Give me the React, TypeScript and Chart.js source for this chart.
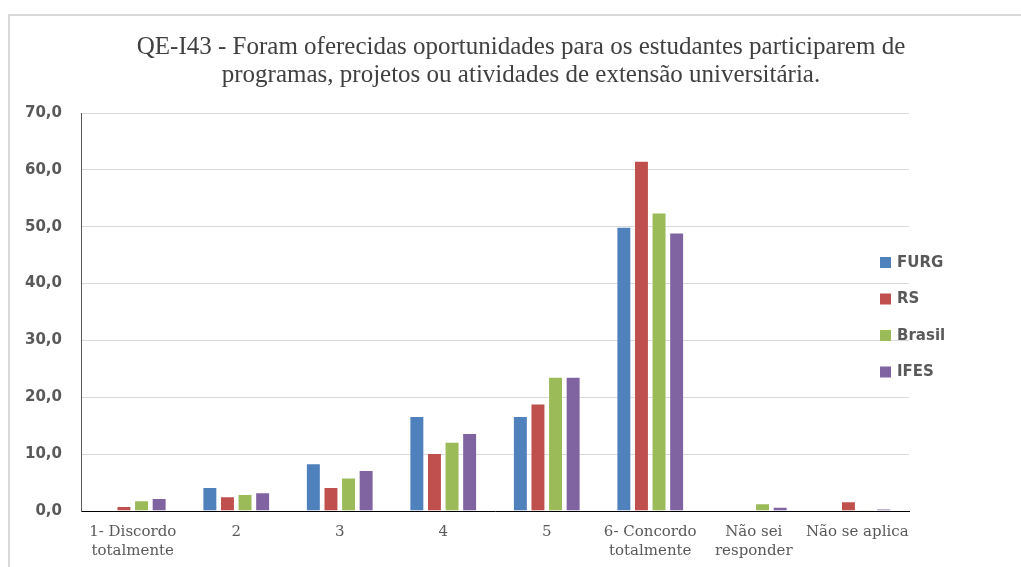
import React, { useEffect, useRef } from "react";
import { Chart, registerables } from "chart.js";

Chart.register(...registerables);

const titleLines = [
  "QE-I43 - Foram oferecidas oportunidades para os estudantes participarem de",
  "programas, projetos ou atividades de extensão universitária.",
];

const categories: (string | string[])[] = [
  ["1- Discordo", "totalmente"],
  "2",
  "3",
  "4",
  "5",
  ["6- Concordo", "totalmente"],
  ["Não sei", "responder"],
  "Não se aplica",
];

const seriesNames = ["FURG", "RS", "Brasil", "IFES"];
const seriesColors = ["#4F81BD", "#C0504D", "#9BBB59", "#8064A2"];

const furg = [0, 4.2, 8.4, 16.7, 16.7, 50.0, 0, 0];
const rs = [0.9, 2.6, 4.2, 10.2, 18.9, 61.6, 0, 1.7];
const brasil = [1.9, 3.0, 5.9, 12.2, 23.6, 52.5, 1.35, 0.2];
const ifes = [2.3, 3.3, 7.2, 13.7, 23.6, 49.0, 0.75, 0.4];

const seriesValues = [furg, rs, brasil, ifes];

const yMin = 0;
const yMax = 70;
const yStep = 10;

const framePlugin = {
  id: "frame",
  beforeDraw(chart: any) {
    const ctx = chart.ctx;
    ctx.save();
    ctx.fillStyle = "#ffffff";
    ctx.fillRect(0, 0, chart.width, chart.height);
    ctx.fillStyle = "#d9d9d9";
    ctx.fillRect(8, 14, 2, chart.height - 14);
    ctx.fillRect(8, 14, chart.width - 8, 2);
    ctx.restore();
  },
};

const titlePlugin = {
  id: "customTitle",
  afterDraw(chart: any) {
    const ctx = chart.ctx;
    ctx.save();
    ctx.font = "25px 'Liberation Serif'";
    ctx.fillStyle = "#404040";
    ctx.textAlign = "center";
    ctx.textBaseline = "middle";
    titleLines.forEach((line, i) => {
      ctx.fillText(line, 521, 47 + i * 28);
    });
    ctx.restore();
  },
};

const legendPlugin = {
  id: "sideLegend",
  afterDraw(chart: any) {
    const ctx = chart.ctx;
    const area = chart.chartArea;
    const x0 = area.right - 29;
    const y0 = area.top + 149;
    const gap = 36.5;
    ctx.save();
    ctx.font = "bold 15px 'DejaVu Sans'";
    ctx.textBaseline = "middle";
    ctx.textAlign = "left";
    chart.data.datasets.forEach((ds: any, i: number) => {
      const cy = y0 + i * gap;
      ctx.fillStyle = ds.backgroundColor;
      ctx.fillRect(x0, cy - 5, 11, 11);
      ctx.fillStyle = "#595959";
      ctx.fillText(ds.label, x0 + 17, cy + 1);
    });
    ctx.restore();
  },
};

export default function App() {
  const ref = useRef<HTMLCanvasElement | null>(null);

  useEffect(() => {
    if (!ref.current) return;
    const chart = new Chart(ref.current, {
      type: "bar",
      data: {
        labels: categories,
        datasets: seriesNames.map((name, i) => ({
          label: name,
          data: seriesValues[i],
          backgroundColor: seriesColors[i],
          borderColor: "rgba(255,255,255,0.35)",
          borderWidth: 1,
          categoryPercentage: 0.68,
          barPercentage: 0.85,
        })),
      },
      options: {
        responsive: false,
        animation: false,
        devicePixelRatio: 1,
        layout: { padding: { left: 0, right: 112, top: 113, bottom: 0 } },
        plugins: {
          legend: { display: false },
          tooltip: { enabled: false },
          title: { display: false },
        },
        scales: {
          x: {
            grid: { display: false, drawTicks: false },
            border: { display: true, color: "#000000", width: 1 },
            ticks: {
              color: "#595959",
              font: { family: "DejaVu Serif", size: 15, lineHeight: 1.25 },
              padding: 12,
              maxRotation: 0,
              autoSkip: false,
            },
            afterFit(axis: any) {
              axis.height = 56;
            },
          },
          y: {
            min: yMin,
            max: yMax,
            grid: { color: "#d9d9d9", lineWidth: 1, drawTicks: false },
            border: { display: true, color: "#595959", width: 1 },
            ticks: {
              stepSize: yStep,
              color: "#595959",
              font: { family: "DejaVu Sans", size: 15, weight: "bold" },
              padding: 19,
              callback: (v: any) => Number(v).toFixed(1).replace(".", ","),
            },
            afterFit(axis: any) {
              axis.width = 81;
            },
          },
        },
      },
      plugins: [framePlugin, titlePlugin, legendPlugin],
    });
    return () => chart.destroy();
  }, []);

  return (
    <div style={{ position: "absolute", left: 0, top: 0, width: 1021, height: 567 }}>
      <canvas ref={ref} width={1021} height={567} style={{ display: "block" }} />
    </div>
  );
}
